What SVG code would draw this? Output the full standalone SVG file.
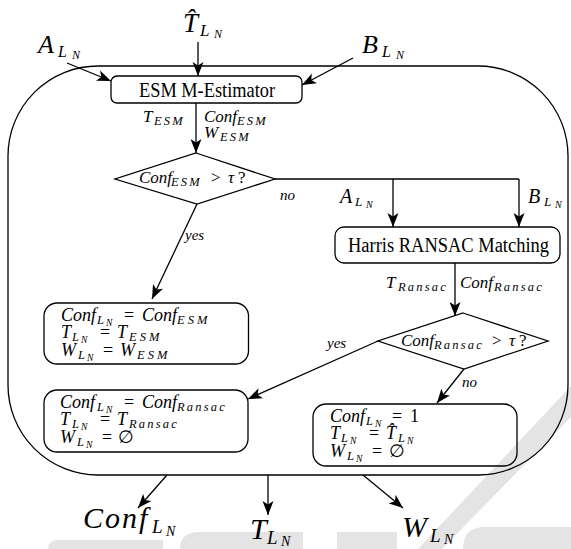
<svg xmlns="http://www.w3.org/2000/svg" width="571" height="549" viewBox="0 0 571 549">
<style>
.ln{fill:none;stroke:#000;stroke-width:1.3}
.box{fill:none;stroke:#000;stroke-width:1.3}
.m{font-family:"Liberation Serif","DejaVu Serif",serif;font-style:italic;fill:#000}
.r{font-family:"Liberation Serif","DejaVu Serif",serif;fill:#000}
.n{font-style:normal}
.wm{fill:#e4e4e4}
.s1{font-size:12.5px;letter-spacing:2.2px}
.bx{font-size:18px}
.bs{font-size:12.5px;letter-spacing:2.2px}
.bss{font-size:9.5px}
</style>
<defs>
<marker id="ah" markerUnits="userSpaceOnUse" viewBox="0 -6 14 12" refX="14" refY="0" markerWidth="14" markerHeight="12" orient="auto"><path d="M0,-5.5 L14,0 L0,5.5 L3.5,0 Z" fill="#000"/></marker>
</defs>
<rect x="0" y="0" width="571" height="549" fill="#fff"/>
<g id="watermark">
<polygon class="wm" points="571,386 571,417 442,549 418,549"/>
<path class="wm" d="M58,540 H163 V549 H48 Q48,540 58,540 Z"/>
<path class="wm" d="M200,532 H303 V549 H180 Q180,532 200,532 Z"/>
<rect class="wm" x="337" y="532" width="60" height="17"/>
<path class="wm" d="M485,527 H571 V549 H463 Q463,527 485,527 Z"/>
</g>
<g id="container"><rect class="box" x="8" y="66" width="560" height="409" rx="90"/></g>
<g id="connectors">
<line class="ln" x1="67" y1="63" x2="111" y2="81" marker-end="url(#ah)"/>
<line class="ln" x1="353" y1="58" x2="302" y2="85" marker-end="url(#ah)"/>
<line class="ln" x1="198" y1="42" x2="198" y2="76" marker-end="url(#ah)"/>
<line class="ln" x1="196" y1="103" x2="196" y2="153" marker-end="url(#ah)"/>
<line class="ln" x1="197" y1="204" x2="152" y2="299" marker-end="url(#ah)"/>
<line class="ln" x1="275" y1="179" x2="519" y2="179"/>
<line class="ln" x1="393" y1="179" x2="393" y2="227" marker-end="url(#ah)"/>
<line class="ln" x1="519" y1="179" x2="519" y2="227" marker-end="url(#ah)"/>
<line class="ln" x1="455" y1="263" x2="455" y2="316" marker-end="url(#ah)"/>
<line class="ln" x1="378" y1="341" x2="248" y2="399" marker-end="url(#ah)"/>
<line class="ln" x1="464" y1="369" x2="437" y2="403" marker-end="url(#ah)"/>
<line class="ln" x1="167" y1="475" x2="138" y2="508" marker-end="url(#ah)"/>
<line class="ln" x1="268" y1="475" x2="268" y2="515" marker-end="url(#ah)"/>
<line class="ln" x1="363" y1="475" x2="403" y2="508" marker-end="url(#ah)"/>
<text class="m" font-size="17"><tspan x="143" y="122">T</tspan><tspan class="s1" x="154" y="125">ESM</tspan></text>
<text class="m" font-size="17"><tspan x="204" y="122">Conf</tspan><tspan class="s1" x="237" y="125">ESM</tspan></text>
<text class="m" font-size="17"><tspan x="204" y="138">W</tspan><tspan class="s1" x="220" y="141">ESM</tspan></text>
<text class="m" x="280" y="200" font-size="15">no</text>
<text class="m" x="185" y="240" font-size="15">yes</text>
<text class="m" font-size="20"><tspan x="340" y="203">A</tspan><tspan x="355" y="206" font-size="13">L</tspan><tspan x="366" y="208" font-size="10">N</tspan></text>
<text class="m" font-size="20"><tspan x="528" y="203">B</tspan><tspan x="544" y="206" font-size="13">L</tspan><tspan x="555" y="208" font-size="10">N</tspan></text>
<text class="m" font-size="17"><tspan x="386" y="288">T</tspan><tspan class="s1" x="398" y="291">Ransac</tspan></text>
<text class="m" font-size="17"><tspan x="460" y="288">Conf</tspan><tspan class="s1" x="494" y="291">Ransac</tspan></text>
<text class="m" x="327" y="348" font-size="15">yes</text>
<text class="m" x="462" y="387" font-size="15">no</text>
</g>
<g id="input-T">
<text class="m" font-size="27"><tspan x="183" y="32">T&#x302;</tspan><tspan x="200" y="36" font-size="17">L</tspan><tspan x="214" y="38" font-size="12">N</tspan></text>
</g>
<g id="input-A">
<text class="m" font-size="26"><tspan x="38" y="53">A</tspan><tspan x="58" y="57" font-size="16">L</tspan><tspan x="72" y="59" font-size="12">N</tspan></text>
</g>
<g id="input-B">
<text class="m" font-size="26"><tspan x="362" y="53">B</tspan><tspan x="382" y="57" font-size="16">L</tspan><tspan x="396" y="59" font-size="12">N</tspan></text>
</g>
<g id="esm">
<rect class="box" x="111" y="76" width="191" height="27" rx="6"/>
<text class="r" x="139" y="97" font-size="21" textLength="136" lengthAdjust="spacingAndGlyphs">ESM M-Estimator</text>
</g>
<g id="decision-esm">
<polygon class="box" points="196,153 275,179 197,204 115,179"/>
<text class="m" font-size="17"><tspan x="139" y="183">Conf</tspan><tspan class="s1" x="171" y="186">ESM</tspan><tspan class="n" x="211" y="183">&gt;</tspan><tspan x="228" y="183">τ</tspan><tspan class="n" x="238" y="183">?</tspan></text>
</g>
<g id="harris">
<rect class="box" x="335" y="227" width="225" height="36" rx="9"/>
<text class="r" x="348" y="252" font-size="20" textLength="201" lengthAdjust="spacingAndGlyphs">Harris RANSAC Matching</text>
</g>
<g id="decision-ransac">
<polygon class="box" points="463,313 548,341 464,369 378,341"/>
<text class="m" font-size="17"><tspan x="401" y="346">Conf</tspan><tspan class="s1" x="434" y="349">Ransac</tspan><tspan class="n" x="492" y="346">&gt;</tspan><tspan x="509" y="346">τ</tspan><tspan class="n" x="519" y="346">?</tspan></text>
</g>
<g id="result-esm">
<rect class="box" x="44" y="303" width="204.5" height="61" rx="13"/>
<text class="m bx"><tspan x="61" y="321">Conf</tspan><tspan class="bs" x="97" y="324">L</tspan><tspan class="bss" x="106" y="326">N</tspan><tspan class="n" x="124" y="321">=</tspan><tspan x="142" y="321">Conf</tspan><tspan class="bs" x="177" y="324" style="letter-spacing:3px">ESM</tspan></text>
<text class="m bx"><tspan x="61" y="338">T</tspan><tspan class="bs" x="72" y="341">L</tspan><tspan class="bss" x="81" y="343">N</tspan><tspan class="n" x="100" y="338">=</tspan><tspan x="117" y="338">T</tspan><tspan class="bs" x="129" y="341" style="letter-spacing:3px">ESM</tspan></text>
<text class="m bx"><tspan x="61" y="356">W</tspan><tspan class="bs" x="78" y="359">L</tspan><tspan class="bss" x="87" y="361">N</tspan><tspan class="n" x="103" y="356">=</tspan><tspan x="120" y="356">W</tspan><tspan class="bs" x="137" y="359" style="letter-spacing:3px">ESM</tspan></text>
</g>
<g id="result-ransac">
<rect class="box" x="44" y="390" width="204" height="62" rx="13"/>
<text class="m bx"><tspan x="60" y="408">Conf</tspan><tspan class="bs" x="97" y="411">L</tspan><tspan class="bss" x="106" y="413">N</tspan><tspan class="n" x="124" y="408">=</tspan><tspan x="142" y="408">Conf</tspan><tspan class="bs" x="177" y="411">Ransac</tspan></text>
<text class="m bx"><tspan x="60" y="425">T</tspan><tspan class="bs" x="72" y="428">L</tspan><tspan class="bss" x="81" y="430">N</tspan><tspan class="n" x="100" y="425">=</tspan><tspan x="117" y="425">T</tspan><tspan class="bs" x="129" y="428">Ransac</tspan></text>
<text class="m bx"><tspan x="60" y="443">W</tspan><tspan class="bs" x="77" y="446">L</tspan><tspan class="bss" x="86" y="448">N</tspan><tspan class="n" x="102" y="443">=</tspan><tspan class="n" x="118" y="443">∅</tspan></text>
</g>
<g id="result-fallback">
<rect class="box" x="313" y="404" width="204" height="62" rx="13"/>
<text class="m bx"><tspan x="330" y="422">Conf</tspan><tspan class="bs" x="366" y="425">L</tspan><tspan class="bss" x="375" y="427">N</tspan><tspan class="n" x="392" y="422">=</tspan><tspan class="n" x="410" y="422">1</tspan></text>
<text class="m bx"><tspan x="330" y="439">T</tspan><tspan class="bs" x="341" y="442">L</tspan><tspan class="bss" x="350" y="444">N</tspan><tspan class="n" x="369" y="439">=</tspan><tspan x="386" y="439">T&#x302;</tspan><tspan class="bs" x="398" y="442">L</tspan><tspan class="bss" x="407" y="444">N</tspan></text>
<text class="m bx"><tspan x="330" y="457">W</tspan><tspan class="bs" x="347" y="460">L</tspan><tspan class="bss" x="356" y="462">N</tspan><tspan class="n" x="372" y="457">=</tspan><tspan class="n" x="389" y="457">∅</tspan></text>
</g>
<g id="output-conf">
<text class="m" font-size="30"><tspan x="83" y="528" style="letter-spacing:2px">Conf</tspan><tspan x="152" y="533" font-size="19">L</tspan><tspan x="166" y="536" font-size="14">N</tspan></text>
</g>
<g id="output-T">
<text class="m" font-size="30"><tspan x="250" y="539">T</tspan><tspan x="267" y="544" font-size="19">L</tspan><tspan x="281" y="546" font-size="14">N</tspan></text>
</g>
<g id="output-W">
<text class="m" font-size="30"><tspan x="402" y="537">W</tspan><tspan x="430" y="542" font-size="19">L</tspan><tspan x="444" y="544" font-size="14">N</tspan></text>
</g>
</svg>
